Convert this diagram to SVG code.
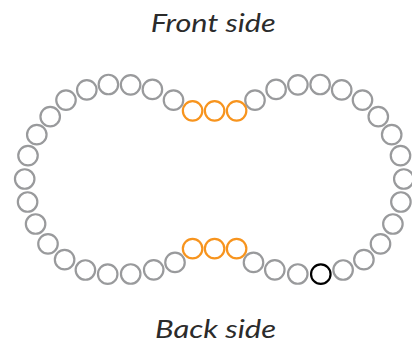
<svg xmlns="http://www.w3.org/2000/svg" width="412" height="345" viewBox="0 0 412 345">
<style>
.b{fill:none;stroke-width:2.2}
.g{stroke:#999a9c}
.o{stroke:#f7941e}
.k{stroke:#000}
.t{font-family:Lato,"Open Sans","Liberation Sans",sans-serif;font-style:italic;font-weight:400;font-size:26px;fill:#2b2b2b}
</style>
<rect width="412" height="345" fill="#fff"/>
<text class="t" x="150.7" y="31.6" textLength="125" lengthAdjust="spacingAndGlyphs">Front side</text>
<text class="t" x="155" y="338.2" textLength="121" lengthAdjust="spacingAndGlyphs">Back side</text>
<g id="left-loop" class="b g">
<g id="L1"><circle cx="173.5" cy="100.2" r="9.75"/></g>
<g id="L2"><circle cx="152.4" cy="89.4" r="9.75"/></g>
<g id="L3"><circle cx="130.6" cy="84.8" r="9.75"/></g>
<g id="L4"><circle cx="108.4" cy="84.5" r="9.75"/></g>
<g id="L5"><circle cx="86.8" cy="89.9" r="9.75"/></g>
<g id="L6"><circle cx="66" cy="100.1" r="9.75"/></g>
<g id="L7"><circle cx="50.2" cy="116.7" r="9.75"/></g>
<g id="L8"><circle cx="36.8" cy="134.7" r="9.75"/></g>
<g id="L9"><circle cx="28" cy="155.6" r="9.75"/></g>
<g id="L10"><circle cx="24.7" cy="179" r="9.75"/></g>
<g id="L11"><circle cx="27.6" cy="202" r="9.75"/></g>
<g id="L12"><circle cx="35.6" cy="224" r="9.75"/></g>
<g id="L13"><circle cx="48" cy="243.9" r="9.75"/></g>
<g id="L14"><circle cx="64.6" cy="259.7" r="9.75"/></g>
<g id="L15"><circle cx="85.4" cy="270" r="9.75"/></g>
<g id="L16"><circle cx="107.7" cy="274.2" r="9.75"/></g>
<g id="L17"><circle cx="130.7" cy="274" r="9.75"/></g>
<g id="L18"><circle cx="153.7" cy="269.8" r="9.75"/></g>
<g id="L19"><circle cx="175" cy="262.4" r="9.75"/></g>
</g>
<g id="right-loop" class="b g">
<g id="R1"><circle cx="255" cy="100.2" r="9.75"/></g>
<g id="R2"><circle cx="276.1" cy="89.4" r="9.75"/></g>
<g id="R3"><circle cx="297.9" cy="84.8" r="9.75"/></g>
<g id="R4"><circle cx="320.1" cy="84.5" r="9.75"/></g>
<g id="R5"><circle cx="341.7" cy="89.9" r="9.75"/></g>
<g id="R6"><circle cx="362.5" cy="100.1" r="9.75"/></g>
<g id="R7"><circle cx="378.3" cy="116.7" r="9.75"/></g>
<g id="R8"><circle cx="391.7" cy="134.7" r="9.75"/></g>
<g id="R9"><circle cx="400.5" cy="155.6" r="9.75"/></g>
<g id="R10"><circle cx="403.8" cy="179" r="9.75"/></g>
<g id="R11"><circle cx="400.9" cy="202" r="9.75"/></g>
<g id="R12"><circle cx="392.9" cy="224" r="9.75"/></g>
<g id="R13"><circle cx="380.5" cy="243.9" r="9.75"/></g>
<g id="R14"><circle cx="363.9" cy="259.7" r="9.75"/></g>
<g id="R15"><circle cx="343.1" cy="270" r="9.75"/></g>
<g id="R16"><circle class="k" cx="320.8" cy="274.2" r="9.75"/></g>
<g id="R17"><circle cx="297.8" cy="274" r="9.75"/></g>
<g id="R18"><circle cx="274.8" cy="269.8" r="9.75"/></g>
<g id="R19"><circle cx="253.5" cy="262.4" r="9.75"/></g>
</g>
<g id="front-link" class="b o">
<g id="F1"><circle cx="192.6" cy="110.8" r="9.75"/></g>
<g id="F2"><circle cx="214.6" cy="110.8" r="9.75"/></g>
<g id="F3"><circle cx="236.6" cy="110.8" r="9.75"/></g>
</g>
<g id="back-link" class="b o">
<g id="B1"><circle cx="192.6" cy="248.7" r="9.75"/></g>
<g id="B2"><circle cx="214.6" cy="248.7" r="9.75"/></g>
<g id="B3"><circle cx="236.6" cy="248.7" r="9.75"/></g>
</g>
</svg>
